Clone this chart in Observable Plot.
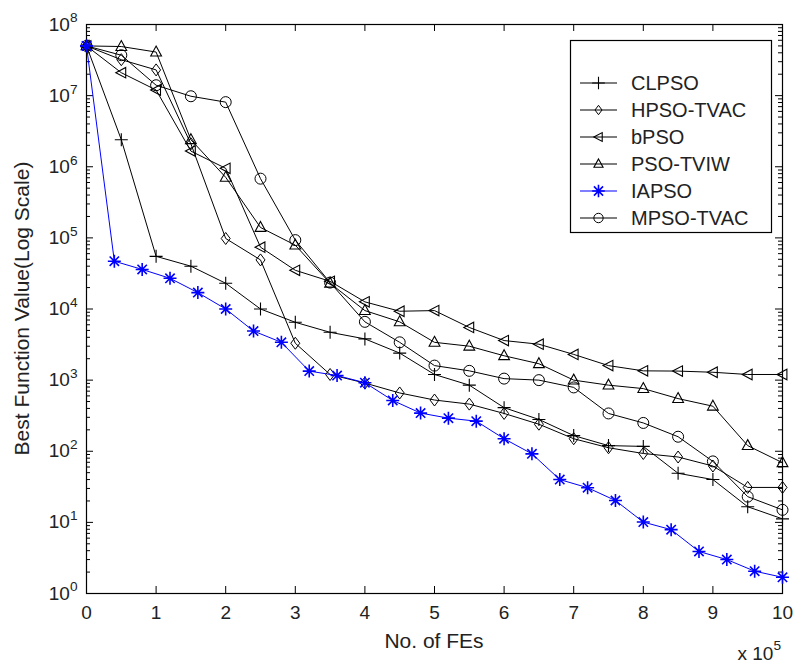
<!DOCTYPE html>
<html><head><meta charset="utf-8">
<script src="https://cdn.jsdelivr.net/npm/d3@7"></script>
<script src="https://cdn.jsdelivr.net/npm/@observablehq/plot@0.6"></script>
<style>
body{margin:0;background:#fff;}
#chart{position:relative;width:793px;height:668px;}
svg text{font-family:"Liberation Sans",Arial,sans-serif;}
</style></head><body><div id="chart"></div>
<script>
// ---- data (x = number of function evaluations) ----
const seriesNames = ["CLPSO","HPSO-TVAC","bPSO","PSO-TVIW","IAPSO","MPSO-TVAC"];
const fesHalfStep = [0,50000,100000,150000,200000,250000,300000,350000,400000,450000,500000,550000,600000,650000,700000,750000,800000,850000,900000,950000,1000000];
const fesIAPSO = [0,40000,80000,120000,160000,200000,240000,280000,320000,360000,400000,440000,480000,520000,560000,600000,640000,680000,720000,760000,800000,840000,880000,920000,960000,1000000];
const clpso   = [5e7,2.4e6,5.5e4,4.0e4,2.3e4,1.0e4,6.5e3,4.7e3,3.8e3,2.4e3,1.2e3,850,410,280,166,120,117,49,40,16.6,11.2];
const hpso    = [5e7,3.2e7,2.3e7,2.1e6,9.8e4,4.9e4,3.3e3,1.2e3,910,660,525,460,340,240,150,112,93,83,62,31,31];
const bpso    = [5e7,2.1e7,1.2e7,1.66e6,9.5e5,7.4e4,3.5e4,2.45e4,1.26e4,9.3e3,9.5e3,5.5e3,3.6e3,3.2e3,2.3e3,1.6e3,1.35e3,1.34e3,1.29e3,1.2e3,1.2e3];
const psotviw = [5e7,4.9e7,4.1e7,2.4e6,7.1e5,1.4e5,7.9e4,2.3e4,9.5e3,6.6e3,3.4e3,3.0e3,2.2e3,1.7e3,1.0e3,850,760,550,430,120,69];
const iapso   = [5e7,4.7e4,3.6e4,2.7e4,1.7e4,1.0e4,4.9e3,3.4e3,1.34e3,1.16e3,920,518,344,292,265,150,92,40,30.7,20.3,10.1,7.9,3.9,3.0,2.06,1.69];
const mpso    = [5e7,3.7e7,1.4e7,9.8e6,8.1e6,6.8e5,9.3e4,2.35e4,6.6e3,3.4e3,1.6e3,1.35e3,1.05e3,1.0e3,790,340,250,160,72,23,15];
const xTicks = [0,100000,200000,300000,400000,500000,600000,700000,800000,900000,1000000];
const yTicks = [1,10,100,1000,10000,100000,1000000,10000000,100000000];

// ---- layout ----
const W = 793, H = 668, mL = 86, mR = 11, mT = 24, mB = 75;
const iw = W - mL - mR, ih = H - mT - mB;

// ---- marker shapes ----
const symPlus = {draw(c, s){const r=Math.sqrt(s/Math.PI); c.moveTo(-r,0);c.lineTo(r,0);c.moveTo(0,-r);c.lineTo(0,r);}};
const symDiamond = {draw(c, s){const r=Math.sqrt(s/Math.PI); c.moveTo(0,-r);c.lineTo(r*0.75,0);c.lineTo(0,r);c.lineTo(-r*0.75,0);c.closePath();}};
const symTriLeft = {draw(c, s){const r=Math.sqrt(s/Math.PI); c.moveTo(-r,0);c.lineTo(r*0.8,-r*0.95);c.lineTo(r*0.8,r*0.95);c.closePath();}};
const symTriUp = {draw(c, s){const r=Math.sqrt(s/Math.PI); c.moveTo(0,-r);c.lineTo(r*0.9,r*0.65);c.lineTo(-r*0.9,r*0.65);c.closePath();}};
const symStar = {draw(c, s){const r=Math.sqrt(s/Math.PI), q=r*0.72; c.moveTo(-r,0);c.lineTo(r,0);c.moveTo(0,-r);c.lineTo(0,r);c.moveTo(-q,-q);c.lineTo(q,q);c.moveTo(-q,q);c.lineTo(q,-q);}};
const symCircle = {draw(c, s){const r=Math.sqrt(s/Math.PI); c.moveTo(r,0);c.arc(0,0,r,0,2*Math.PI);}};

const series = [
  {name:"CLPSO",     fes:fesHalfStep, vals:clpso,   color:"#000000", sym:symPlus,    r:6.5, sw:1.1},
  {name:"HPSO-TVAC", fes:fesHalfStep, vals:hpso,    color:"#000000", sym:symDiamond, r:6,   sw:1},
  {name:"bPSO",      fes:fesHalfStep, vals:bpso,    color:"#000000", sym:symTriLeft, r:5.5, sw:1.1},
  {name:"PSO-TVIW",  fes:fesHalfStep, vals:psotviw, color:"#000000", sym:symTriUp,   r:6,   sw:1.1},
  {name:"MPSO-TVAC", fes:fesHalfStep, vals:mpso,    color:"#000000", sym:symCircle,  r:5.5, sw:1},
  {name:"IAPSO",     fes:fesIAPSO,    vals:iapso,   color:"#0000ff", sym:symStar,    r:6.5, sw:1.6}
];
const rowsOf = s => s.fes.map((f, i) => ({fe: f, v: s.vals[i], name: s.name}));

const minorY = [];
for (let k = 0; k < 8; k++) for (let m = 2; m <= 9; m++) minorY.push(m * Math.pow(10, k));

const marks = [
  Plot.frame({stroke: "black", strokeWidth: 1.2}),
  Plot.axisX({ticks: xTicks, tickSize: 0, tickPadding: 12, tickFormat: d => String(d / 1e5), label: null, fontSize: 19}),
  Plot.axisY({ticks: yTicks, tickSize: 0, tickPadding: 9, tickFormat: d => "10^" + Math.round(Math.log10(d)), label: null, fontSize: 19}),
  Plot.tickX(xTicks, {x: d => d, insetTop: ih - 7, stroke: "black"}),
  Plot.tickX(xTicks, {x: d => d, insetBottom: ih - 7, stroke: "black"}),
  Plot.tickY(yTicks, {y: d => d, insetRight: iw - 7, stroke: "black"}),
  Plot.tickY(yTicks, {y: d => d, insetLeft: iw - 7, stroke: "black"}),
  Plot.tickY(minorY, {y: d => d, insetRight: iw - 4, stroke: "black"}),
  Plot.tickY(minorY, {y: d => d, insetLeft: iw - 4, stroke: "black"})
];
for (const s of series) {
  marks.push(Plot.line(rowsOf(s), {x: "fe", y: "v", stroke: s.color, strokeWidth: 1}));
}
for (const s of series) {
  marks.push(Plot.dot(rowsOf(s), {x: "fe", y: "v", symbol: s.sym, r: s.r, stroke: s.color, strokeWidth: s.sw, fill: "none"}));
}

const chart = Plot.plot({
  width: W, height: H, marginLeft: mL, marginRight: mR, marginTop: mT, marginBottom: mB,
  style: {fontFamily: "Liberation Sans, Arial, sans-serif", fontSize: "19px", background: "white", color: "black", overflow: "visible"},
  x: {domain: [0, 1000000]},
  y: {type: "log", domain: [1, 1e8]},
  marks
});
document.getElementById("chart").appendChild(chart);

const svg = d3.select(chart);
// superscript exponents on y tick labels
svg.selectAll('g[aria-label="y-axis tick label"] text').each(function(){
  const t = d3.select(this);
  const parts = t.text().split("^");
  t.text(null);
  t.append("tspan").text(parts[0]);
  t.append("tspan").attr("dy", "-0.6em").attr("font-size", "0.72em").text(parts[1]);
});
svg.selectAll('g[aria-label="y-axis tick label"] text, g[aria-label="x-axis tick label"] text').attr("fill", "#222");

// axis titles
svg.append("text").attr("x", mL + iw / 2).attr("y", 648).attr("text-anchor", "middle")
  .attr("font-size", 21).attr("fill", "#222").text("No. of FEs");
svg.append("text").attr("transform", `translate(29,${mT + ih / 2}) rotate(-90)`).attr("text-anchor", "middle")
  .attr("font-size", 21).attr("fill", "#222").text("Best Function Value(Log Scale)");
const ex = svg.append("text").attr("x", 781).attr("y", 660).attr("text-anchor", "end").attr("font-size", 19).attr("fill", "#222");
ex.append("tspan").text("x 10");
ex.append("tspan").attr("dy", "-0.7em").attr("font-size", "0.72em").text("5");

// legend
const lg = svg.append("g").attr("text-anchor", "start");
lg.append("rect").attr("x", 570.5).attr("y", 40.5).attr("width", 201).attr("height", 192).attr("fill", "white").attr("stroke", "black").attr("stroke-width", 1.2);
const legendOrder = ["CLPSO","HPSO-TVAC","bPSO","PSO-TVIW","IAPSO","MPSO-TVAC"];
const legendSymbolScale = {"CLPSO":0.75,"HPSO-TVAC":0.6,"bPSO":0.65,"PSO-TVIW":0.65,"IAPSO":0.75,"MPSO-TVAC":0.65};
legendOrder.forEach((n, i) => {
  const s = series.find(d => d.name === n);
  const y = 83 + i * 27;
  lg.append("line").attr("x1", 580).attr("x2", 617).attr("y1", y).attr("y2", y).attr("stroke", s.color).attr("stroke-width", 1.2);
  const rr = s.r * legendSymbolScale[n] * 1.3;
  lg.append("path").attr("transform", `translate(598.5,${y})`)
    .attr("d", d3.symbol(s.sym, Math.PI * rr * rr)())
    .attr("fill", "none").attr("stroke", s.color).attr("stroke-width", s.sw);
  lg.append("text").attr("x", 631).attr("y", y).attr("dy", "0.36em").attr("text-anchor", "start")
    .attr("font-size", 20).attr("fill", "#222").text(n);
});
</script></body></html>
